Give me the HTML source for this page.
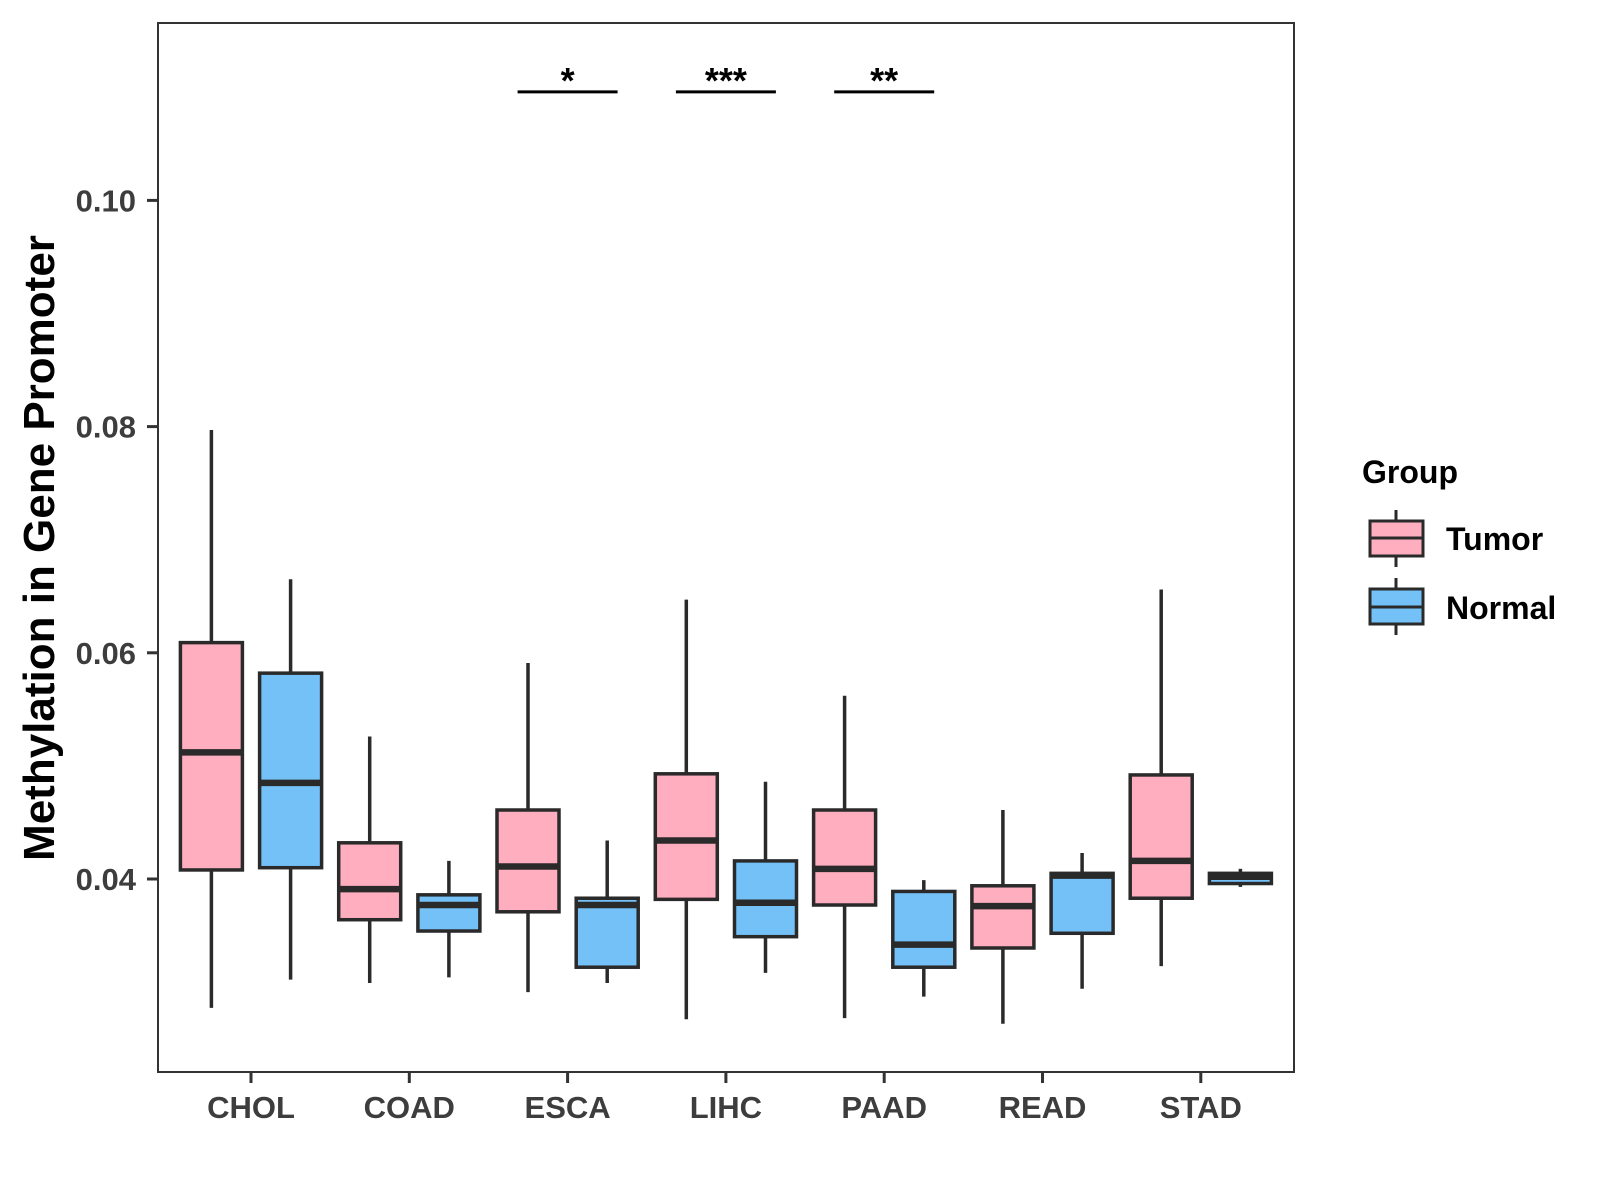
<!DOCTYPE html>
<html><head><meta charset="utf-8"><style>
html,body{margin:0;padding:0;background:#fff}
svg{display:block;font-family:"Liberation Sans",Arial,sans-serif}
</style></head><body>
<svg id="chart" width="1600" height="1200" viewBox="0 0 1600 1200">
<rect x="0" y="0" width="1600" height="1200" fill="#fff"/>
<g id="marks"></g>
<g id="axes"></g>
<rect x="158" y="23" width="1136" height="1049" fill="none" stroke="#333" stroke-width="2"/>
<text transform="translate(54,548) rotate(-90)" text-anchor="middle" font-size="44" font-weight="bold" fill="#000">Methylation in Gene Promoter</text>
<g>
<text x="1362" y="483" font-size="32" font-weight="bold" fill="#000">Group</text>
<g>
<line x1="1396" y1="510" x2="1396" y2="567" stroke="#2a2a2a" stroke-width="3"/>
<rect x="1370" y="521" width="53" height="35" fill="#FFAEC0" stroke="#2a2a2a" stroke-width="3"/>
<line x1="1370" y1="538" x2="1423" y2="538" stroke="#2a2a2a" stroke-width="3"/>
<text x="1446" y="550" font-size="32" font-weight="bold" fill="#000">Tumor</text>
</g>
<g>
<line x1="1396" y1="578" x2="1396" y2="635" stroke="#2a2a2a" stroke-width="3"/>
<rect x="1370" y="589" width="53" height="35" fill="#74C1F8" stroke="#2a2a2a" stroke-width="3"/>
<line x1="1370" y1="607" x2="1423" y2="607" stroke="#2a2a2a" stroke-width="3"/>
<text x="1446" y="619" font-size="32" font-weight="bold" fill="#000">Normal</text>
</g>
</g>
</svg>
<script>
const categories = ["CHOL","COAD","ESCA","LIHC","PAAD","READ","STAD"];
const tumorLow = [0.0286,0.0308,0.0300,0.0276,0.0277,0.0272,0.0323];
const tumorQ1  = [0.0408,0.0364,0.0371,0.0382,0.0377,0.0339,0.0383];
const tumorMed = [0.0512,0.0391,0.0411,0.0434,0.0409,0.0376,0.0416];
const tumorQ3  = [0.0609,0.0432,0.0461,0.0493,0.0461,0.0394,0.0492];
const tumorHigh= [0.0797,0.0526,0.0591,0.0647,0.0562,0.0461,0.0656];
const normalLow = [0.0311,0.0313,0.0308,0.0317,0.0296,0.0303,0.0393];
const normalQ1  = [0.0410,0.0354,0.0322,0.0349,0.0322,0.0352,0.0396];
const normalMed = [0.0485,0.0377,0.0377,0.0379,0.0342,0.0403,0.0402];
const normalQ3  = [0.0582,0.0386,0.0383,0.0416,0.0389,0.0405,0.0405];
const normalHigh= [0.0665,0.0416,0.0434,0.0486,0.0399,0.0423,0.0409];
const yTicks = [0.04,0.06,0.08,0.10];
const yTickLabels = ["0.04","0.06","0.08","0.10"];
const sigCategories = ["ESCA","LIHC","PAAD"];
const sigLabels = ["*","***","**"];
const sigValue = 0.1096;

const NS="http://www.w3.org/2000/svg";
const xs = i => 251 + i*158.3;
const ys = v => 879 - (v-0.04)/0.02*226.2;
const marks=document.getElementById('marks'), axes=document.getElementById('axes');
function mk(tag,attrs,parent){const e=document.createElementNS(NS,tag);for(const k in attrs)e.setAttribute(k,attrs[k]);parent.appendChild(e);return e;}
const half=31, off=39.6;
function box(cx,lo,q1,md,q3,hi,fill,name,parent){
  const g=mk('g',{},parent);
  
  
  mk('line',{x1:cx,x2:cx,y1:ys(hi),y2:ys(lo),stroke:'#2a2a2a','stroke-width':3.5},g);
  mk('rect',{x:cx-half,y:ys(q3),width:2*half,height:Math.max(ys(q1)-ys(q3),0.5),fill:fill,stroke:'#2a2a2a','stroke-width':3.5},g);
  mk('line',{x1:cx-half,x2:cx+half,y1:ys(md),y2:ys(md),stroke:'#2a2a2a','stroke-width':6.5},g);
}
categories.forEach((c,i)=>{
  box(xs(i)-off,tumorLow[i],tumorQ1[i],tumorMed[i],tumorQ3[i],tumorHigh[i],'#FFAEC0','box-tumor-'+c.toLowerCase(),marks);
  box(xs(i)+off,normalLow[i],normalQ1[i],normalMed[i],normalQ3[i],normalHigh[i],'#74C1F8','box-normal-'+c.toLowerCase(),marks);
  const t=mk('line',{x1:xs(i),x2:xs(i),y1:1072,y2:1083,stroke:'#333','stroke-width':3},axes);
  
  
  const l=mk('text',{x:xs(i),y:1118,'text-anchor':'middle','font-size':31,'font-weight':'bold',fill:'#3d3d3d'},axes);
  
  
  l.textContent=c;
});
yTicks.forEach((v,i)=>{
  const t=mk('line',{x1:147,x2:158,y1:ys(v),y2:ys(v),stroke:'#333','stroke-width':3},axes);
  
  
  const l=mk('text',{x:136,y:ys(v)+11,'text-anchor':'end','font-size':31,'font-weight':'bold',fill:'#3d3d3d'},axes);
  
  
  l.textContent=yTickLabels[i];
});
sigCategories.forEach((c,j)=>{
  const i=categories.indexOf(c);
  const ln=mk('line',{x1:xs(i)-50,x2:xs(i)+50,y1:ys(sigValue),y2:ys(sigValue),stroke:'#000','stroke-width':3},marks);
  
  
  const s=mk('text',{x:xs(i),y:ys(sigValue)+1,'text-anchor':'middle','font-size':36,'font-weight':'bold',fill:'#000'},marks);
  
  
  s.textContent=sigLabels[j];
});
</script>
</body></html>
